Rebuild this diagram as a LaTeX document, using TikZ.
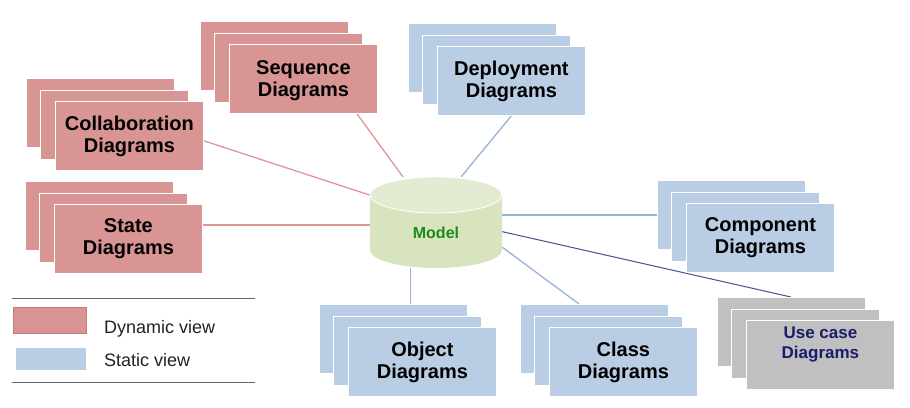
\documentclass[tikz,border=0pt]{standalone}
\usepackage{fontspec}
\setmainfont{Liberation Sans}
\usetikzlibrary{calc}
\definecolor{dynred}{HTML}{D99594}
\definecolor{dynedge}{HTML}{C77A79}
\definecolor{statblue}{HTML}{B9CDE5}
\definecolor{ucgray}{HTML}{C0C0C0}
\definecolor{redln}{HTML}{DC9897}
\definecolor{blueln}{HTML}{95B3D7}
\definecolor{navyln}{HTML}{4B4B99}
\definecolor{navytxt}{HTML}{1C1C6C}
\definecolor{modelgreen}{HTML}{1A8C1A}
\definecolor{cylbody}{HTML}{D7E4BD}
\definecolor{cyltop}{HTML}{E3ECD3}
\definecolor{legtext}{HTML}{222222}
\definecolor{legrule}{HTML}{666666}
\pgfdeclarelayer{background}
\pgfsetlayers{background,main}
\newcommand\mkstack[5]{%
  \node[#1] (#2-1) at ({#3-29.5},{#4-23}) {};
  \node[#1] (#2-2) at ({#3-15},{#4-11.5}) {};
  \node[#1] (#2-3) at (#3,#4) {#5};
}
\begin{document}
\begin{tikzpicture}[x=1pt,y=-1pt,
  diag/.style={anchor=north west, minimum width=148pt, minimum height=69pt,
    inner sep=0pt, draw=white, line width=0.8pt, align=center,
    font=\bfseries\fontsize{20}{22}\selectfont},
  dyn/.style={diag, fill=dynred},
  stat/.style={diag, fill=statblue},
  ucase/.style={diag, fill=ucgray, text=navytxt, font=\bfseries\fontsize{17}{20}\selectfont},
  redcon/.style={draw=redln, line width=1.3pt},
  bluecon/.style={draw=blueln, line width=1.3pt},
  navycon/.style={draw=navyln, line width=1pt},
  legline/.style={draw=legrule, line width=0.8pt},
  legtxt/.style={anchor=base west, inner sep=0pt, text=legtext, font=\fontsize{18}{21}\selectfont}]
\useasboundingbox (0,0) rectangle (910,407);

% diagram stacks
\mkstack{dyn}{seq}{229}{44}{\raisebox{-2pt}[\height][\depth]{\begin{tabular}{@{}c@{}}Sequence\\Diagrams\end{tabular}}}
\mkstack{dyn}{col}{55}{101}{Collaboration\\Diagrams}
\mkstack{dyn}{st}{54}{204}{State\\Diagrams}
\mkstack{stat}{dep}{437}{46}{Deployment\\Diagrams}
\mkstack{stat}{comp}{686}{203}{Component\\Diagrams}
\mkstack{stat}{obj}{348}{327}{Object\\Diagrams}
\mkstack{stat}{cls}{549}{327}{Class\\Diagrams}
\mkstack{ucase}{uc}{746}{320}{\raisebox{10pt}[\height][\depth]{\begin{tabular}{@{}c@{}}Use case\\Diagrams\end{tabular}}}

% model cylinder
\fill[cylbody] (370,195) -- (370,250) .. controls (370,259.94) and (399.55,268) .. (436,268)
  .. controls (472.45,268) and (502,259.94) .. (502,250) -- (502,195) -- cycle;
\filldraw[fill=cyltop, draw=white, line width=0.8pt] (436,195) ellipse [x radius=66pt, y radius=18pt];
\node[minimum width=132pt, minimum height=91pt, inner sep=0pt, text=modelgreen,
  font=\bfseries\fontsize{16}{19}\selectfont] (model) at (436,222.5)
  {\raisebox{-10.5pt}[\height][\depth]{Model}};

% connectors
\begin{pgfonlayer}{background}
\draw[redcon] ($(seq-3.south west)!0.86!(seq-3.south east)$) -- ($(model.north west)!0.25!(model.north east)$);
\draw[bluecon] (dep-3.south) -- ($(model.north west)!0.69!(model.north east)$);
\draw[redcon] ($(col-3.north east)!0.57!(col-3.south east)$) -- ($(model.north west)!0.2!(model.south west)$);
\draw[redcon] ($(st-3.north east)!0.30!(st-3.south east)$) coordinate (sa) -- (sa -| model.west);
\draw[bluecon] (comp-1.west) -- (comp-1.west -| model.east);
\draw[navycon] ($(model.north east)!0.6!(model.south east)$) -- (uc-1.north);
\draw[bluecon] ($(model.north east)!0.77!(model.south east)$) -- ($(cls-1.north west)!0.4!(cls-1.north east)$);
\draw[bluecon] ($(obj-1.north west)!0.62!(obj-1.north east)$) coordinate (oa) -- (oa |- model.south);
\end{pgfonlayer}

% legend
\draw[legline] (12,298) -- (255,298);
\draw[legline] (12,382) -- (255,382);
\node[anchor=north west, minimum width=73pt, minimum height=26pt, inner sep=0pt,
  fill=dynred, draw=dynedge, line width=0.6pt] (legdyn) at (13,307) {};
\node[anchor=north west, minimum width=70pt, minimum height=22pt, inner sep=0pt,
  fill=statblue] (legstat) at (16,348) {};
\node[legtxt] (legdyntxt) at (104,333) {Dynamic view};
\node[legtxt] (legstattxt) at (104,366) {Static view};
\end{tikzpicture}
\end{document}
